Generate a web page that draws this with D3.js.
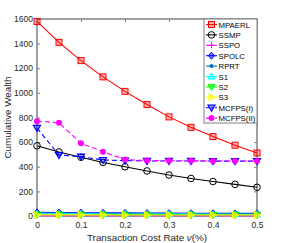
<!DOCTYPE html>
<html><head><meta charset="utf-8">
<script src="https://cdn.jsdelivr.net/npm/d3@7"></script>
<style>body{margin:0;background:#fff}svg{display:block;font-family:"Liberation Sans",Arial,sans-serif}</style>
</head><body><svg id="c" width="285" height="243"></svg>
<script>
const rates = [0, 0.05, 0.1, 0.15, 0.2, 0.25, 0.3, 0.35, 0.4, 0.45, 0.5];
const xTicks = [0, 0.1, 0.2, 0.3, 0.4, 0.5];
const yTicks = [0, 200, 400, 600, 800, 1000, 1200, 1400, 1600];
const MPAERL = [1580, 1410, 1262, 1130, 1012, 905, 805, 720, 645, 575, 512];
const SSMP = [570, 520, 477, 435, 400, 366, 333, 305, 280, 257, 233];
const SSPO = [3, 3, 3, 3, 3, 3, 3, 3, 3, 3, 3];
const SPOLC = [30, 28, 27, 26, 25, 24, 23, 22, 22, 21, 21];
const RPRT = [24, 23, 22, 21, 20, 20, 19, 19, 18, 18, 18];
const S1 = [18, 17, 17, 16, 16, 15, 15, 15, 14, 14, 14];
const S2 = [12, 12, 11, 11, 11, 11, 10, 10, 10, 10, 10];
const S3 = [9, 9, 9, 9, 8, 8, 8, 8, 8, 8, 8];
const MCFPS_I = [715, 495, 482, 455, 450, 447, 447, 447, 446, 446, 446];
const MCFPS_II = [770, 757, 590, 522, 458, 450, 449, 448, 447, 447, 447];

const series = [
  {name:"MPAERL", v:MPAERL, c:"#ff0000", m:"square", dash:null},
  {name:"SSMP", v:SSMP, c:"#000000", m:"circle", dash:null},
  {name:"SSPO", v:SSPO, c:"#ff00ff", m:"plus", dash:null},
  {name:"SPOLC", v:SPOLC, c:"#0000ff", m:"diamond", dash:null},
  {name:"RPRT", v:RPRT, c:"#0072bd", m:"dot", dash:null},
  {name:"S1", v:S1, c:"#00ffff", m:"up", dash:null},
  {name:"S2", v:S2, c:"#00ff00", m:"down", dash:null},
  {name:"S3", v:S3, c:"#ffff00", m:"right", dash:null},
  {name:"MCFPS(I)", v:MCFPS_I, c:"#0000ff", m:"downOpen", dash:"5,3"},
  {name:"MCFPS(II)", v:MCFPS_II, c:"#ff00ff", m:"dotBig", dash:"5,3"}
];

const svg = d3.select("#c");
const L = 37, R = 257, T = 19, B = 216;
const x = d3.scaleLinear().domain([0, 0.5]).range([L, R]);
const y = d3.scaleLinear().domain([0, 1600]).range([B, T]);
const axisCol = "#808080", txtCol = "#262626";

function marker(g, type, c, cx, cy) {
  const s = 3;
  if (type === "square") g.append("rect").attr("x", cx-s).attr("y", cy-s).attr("width", 2*s).attr("height", 2*s).attr("fill", "rgba(255,0,0,0.3)").attr("stroke", c).attr("stroke-width", 1);
  else if (type === "circle") g.append("circle").attr("cx", cx).attr("cy", cy).attr("r", 3.3).attr("fill", "none").attr("stroke", c).attr("stroke-width", 1);
  else if (type === "plus") g.append("path").attr("d", `M${cx-3},${cy}H${cx+3}M${cx},${cy-3}V${cy+3}`).attr("stroke", c).attr("stroke-width", 1);
  else if (type === "diamond") g.append("path").attr("d", `M${cx},${cy-3.5}L${cx+3},${cy}L${cx},${cy+3.5}L${cx-3},${cy}Z`).attr("fill", c).attr("fill-opacity", 0.5).attr("stroke", c);
  else if (type === "dot") g.append("circle").attr("cx", cx).attr("cy", cy).attr("r", 2).attr("fill", c);
  else if (type === "dotBig") g.append("circle").attr("cx", cx).attr("cy", cy).attr("r", 3).attr("fill", c);
  else if (type === "up") g.append("path").attr("d", `M${cx},${cy-3.5}L${cx+3.5},${cy+2.5}L${cx-3.5},${cy+2.5}Z`).attr("fill", c).attr("fill-opacity", 0.6).attr("stroke", c);
  else if (type === "down") g.append("path").attr("d", `M${cx},${cy+3.5}L${cx+3.5},${cy-2.5}L${cx-3.5},${cy-2.5}Z`).attr("fill", c).attr("fill-opacity", 0.6).attr("stroke", c);
  else if (type === "downOpen") g.append("path").attr("d", `M${cx},${cy+3.5}L${cx+3.5},${cy-2.5}L${cx-3.5},${cy-2.5}Z`).attr("fill", c).attr("fill-opacity", 0.35).attr("stroke", c).attr("stroke-width", 1.2);
  else if (type === "right") g.append("path").attr("d", `M${cx+3.5},${cy}L${cx-2.5},${cy-3.5}L${cx-2.5},${cy+3.5}Z`).attr("fill", c).attr("fill-opacity", 0.6).attr("stroke", c);
}

// axes box
const ax = svg.append("g");
ax.append("rect").attr("x", L).attr("y", T).attr("width", R-L).attr("height", B-T).attr("fill", "none").attr("stroke", axisCol).attr("stroke-width", 1.5);

const yAxis = d3.axisLeft(y).tickValues(yTicks).tickSize(-3).tickPadding(4).tickFormat(d3.format("d"));
const gy = svg.append("g").attr("transform", `translate(${L},0)`).call(yAxis);
const xAxis = d3.axisBottom(x).tickValues(xTicks).tickSize(-3).tickPadding(6).tickFormat(d3.format("~g"));
const gx = svg.append("g").attr("transform", `translate(0,${B})`).call(xAxis);
const xAxisTop = d3.axisTop(x).tickValues(xTicks).tickSize(-3).tickFormat("");
const gxt = svg.append("g").attr("transform", `translate(0,${T})`).call(xAxisTop);
const yAxisR = d3.axisRight(y).tickValues(yTicks).tickSize(-3).tickFormat("");
const gyr = svg.append("g").attr("transform", `translate(${R},0)`).call(yAxisR);
[gy, gx, gxt, gyr].forEach(g => {
  g.select(".domain").remove();
  g.selectAll(".tick line").attr("stroke", axisCol);
  g.selectAll(".tick text").attr("fill", txtCol).attr("font-size", 8.5).attr("font-family", '"Liberation Sans",Arial,sans-serif');
});

// lines
const line = d3.line().x((d, i) => x(rates[i])).y(d => y(d));
const plot = svg.append("g");
series.forEach(s => {
  plot.append("path").datum(s.v).attr("d", line).attr("fill", "none").attr("stroke", s.c).attr("stroke-width", 1.1).attr("stroke-dasharray", s.dash);
  const mg = plot.append("g");
  s.v.forEach((v, i) => marker(mg, s.m, s.c, x(rates[i]), y(v)));
});

// labels
const xl = svg.append("text").attr("x", (L+R)/2).attr("y", 240.5).attr("text-anchor", "middle").attr("font-size", 9.8).attr("fill", txtCol);
xl.append("tspan").text("Transaction Cost Rate ");
xl.append("tspan").attr("font-style", "italic").text("ν");
xl.append("tspan").text("(%)");
svg.append("text").attr("transform", `translate(11,${(T+B)/2}) rotate(-90)`).attr("text-anchor", "middle").attr("font-size", 9.8).attr("fill", txtCol).text("Cumulative Wealth");

// legend
const lg = svg.append("g");
const lx = 204, ly = 19, lw = 53, lh = 104;
lg.append("rect").attr("x", lx).attr("y", ly).attr("width", lw).attr("height", lh).attr("fill", "#fff").attr("stroke", axisCol).attr("stroke-width", 1);
series.forEach((s, i) => {
  const yy = ly + 5.5 + i * 10.4;
  lg.append("line").attr("x1", lx+2).attr("x2", lx+13).attr("y1", yy).attr("y2", yy).attr("stroke", s.c).attr("stroke-width", 1.1).attr("stroke-dasharray", s.dash ? "3,1.5" : null);
  marker(lg, s.m, s.c, lx+7.5, yy);
  lg.append("text").attr("x", lx+14.5).attr("y", yy+3).attr("font-size", 7.8).attr("fill", "#000").text(s.name);
});
</script>
</body></html>
